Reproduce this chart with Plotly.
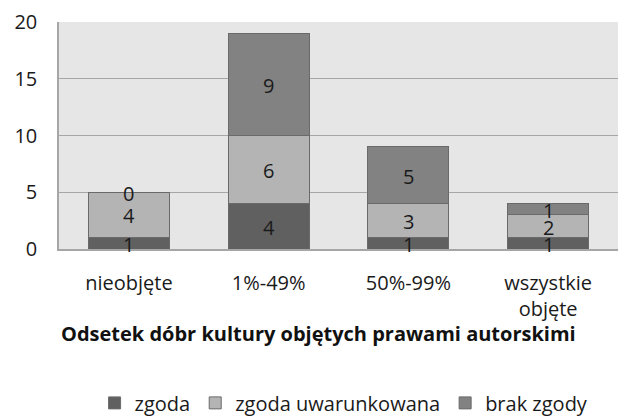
import plotly.graph_objects as go

categories = ["nieobjęte", "1%-49%", "50%-99%", "wszystkie<br>objęte"]
series_names = ["zgoda", "zgoda uwarunkowana", "brak zgody"]
zgoda = [1, 4, 1, 1]
zgoda_uwarunkowana = [4, 6, 3, 2]
brak_zgody = [0, 9, 5, 1]
y_ticks = [0, 5, 10, 15, 20]
x_title = "Odsetek dóbr kultury objętych prawami autorskimi"

series_values = [zgoda, zgoda_uwarunkowana, brak_zgody]
colors = ["#606060", "#b4b4b4", "#828282"]
FONT = "Open Sans"
FS = 20

fig = go.Figure()
for name, vals, col in zip(series_names, series_values, colors):
    fig.add_trace(go.Bar(
        x=categories, y=vals, name=name,
        marker=dict(color=col, line=dict(color="#6a6a6a", width=1)),
        width=0.58,
    ))

# data labels via annotations at segment centres
base = [0] * len(categories)
for vals in series_values:
    for i, v in enumerate(vals):
        fig.add_annotation(
            x=categories[i], y=base[i] + v / 2, text=str(v),
            showarrow=False, font=dict(family=FONT, size=FS, color="#1a1a1a"),
            xref="x", yref="y", yshift=-1,
        )
        base[i] += v

# axis title as annotation (sits close under the two-line tick label)
fig.add_annotation(
    x=0.465, y=-0.374, xref="paper", yref="paper",
    xanchor="center", yanchor="middle", showarrow=False,
    text="<b>" + x_title + "</b>",
    font=dict(family=FONT, size=20, color="#111111"),
)

fig.update_layout(
    barmode="stack",
    width=618, height=417,
    margin=dict(l=59, r=0, t=22, b=168, autoexpand=False),
    paper_bgcolor="white",
    plot_bgcolor="#e6e6e6",
    font=dict(family=FONT, size=FS, color="#1a1a1a"),
    showlegend=True,
    legend=dict(
        orientation="h", x=0.51, xanchor="center", y=-0.592, yanchor="top",
        font=dict(family=FONT, size=20, color="#1a1a1a"),
        itemwidth=30, traceorder="normal",
    ),
)
fig.update_xaxes(
    automargin=False,
    showgrid=False, showline=True, linecolor="#a6a6a6", linewidth=1.5,
    ticks="", ticklabelstandoff=15,
    tickfont=dict(family=FONT, size=FS),
)
fig.update_yaxes(
    automargin=False,
    range=[0, 20], tickvals=y_ticks, showgrid=True, gridcolor="#a6a6a6",
    gridwidth=1.2, showline=True, linecolor="#a6a6a6", linewidth=1.5,
    ticks="", ticklabelstandoff=16, zeroline=False,
    tickfont=dict(family=FONT, size=FS),
)

fig.write_html("out.html", config={"displayModeBar": False},
               post_script="document.body.style.margin='0';")
